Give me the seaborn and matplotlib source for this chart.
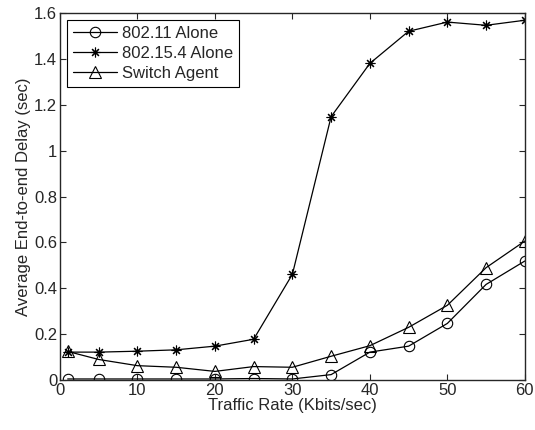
import matplotlib
matplotlib.use("Agg")
import matplotlib.pyplot as plt
import seaborn as sns
import pandas as pd

# traffic rate (Kbits/sec)
rates = [1, 5, 10, 15, 20, 25, 30, 35, 40, 45, 50, 55, 60]
# average end-to-end delay (sec)
delay_80211 = [0.005, 0.005, 0.005, 0.005, 0.005, 0.007, 0.005, 0.024, 0.122, 0.148, 0.247, 0.417, 0.519]
delay_802154 = [0.122, 0.122, 0.126, 0.132, 0.148, 0.178, 0.461, 1.148, 1.38, 1.52, 1.56, 1.546, 1.568]
delay_switch = [0.125, 0.09, 0.063, 0.056, 0.038, 0.059, 0.056, 0.104, 0.15, 0.23, 0.326, 0.49, 0.606]

series = ["802.11 Alone", "802.15.4 Alone", "Switch Agent"]
markers = ["o", (8, 2, 0), "^"]
msizes = [7.5, 7, 8.5]

df = pd.DataFrame({"rate": rates, series[0]: delay_80211,
                   series[1]: delay_802154, series[2]: delay_switch})

sns.set_style("ticks")
plt.rcParams['font.family'] = ['Liberation Sans', 'DejaVu Sans']

fig = plt.figure(figsize=(5.35, 4.3), dpi=100)
ax = fig.add_axes([0.112, 0.116, 0.869, 0.854])

for name, m, ms in zip(series, markers, msizes):
    sns.lineplot(x="rate", y=name, data=df, ax=ax, color="black", linewidth=0.9,
                 marker=m, markersize=ms, markerfacecolor="none",
                 markeredgecolor="black", markeredgewidth=0.8, label=name)

ax.set_xlim(0, 60)
ax.set_ylim(0, 1.6)
ax.set_xticks([0, 10, 20, 30, 40, 50, 60])
ax.set_yticks([0, 0.2, 0.4, 0.6, 0.8, 1, 1.2, 1.4, 1.6])
ax.set_yticklabels(["0", "0.2", "0.4", "0.6", "0.8", "1", "1.2", "1.4", "1.6"])
ax.tick_params(direction="in", top=True, right=True, labelsize=12, length=4, width=0.8, pad=2)
for s in ax.spines.values():
    s.set_linewidth(1.0)
    s.set_visible(True)
ax.set_xlabel("Traffic Rate (Kbits/sec)", fontsize=12, labelpad=0)
ax.set_ylabel("Average End-to-end Delay (sec)", fontsize=12, labelpad=2)

leg = ax.legend(loc="upper left", fontsize=12, fancybox=False, framealpha=1,
                edgecolor="black", borderaxespad=0.45, handlelength=2.6,
                labelspacing=0.3, borderpad=0.35, handletextpad=0.3)
leg.get_frame().set_linewidth(0.8)

fig.savefig("out.png", dpi=100)
